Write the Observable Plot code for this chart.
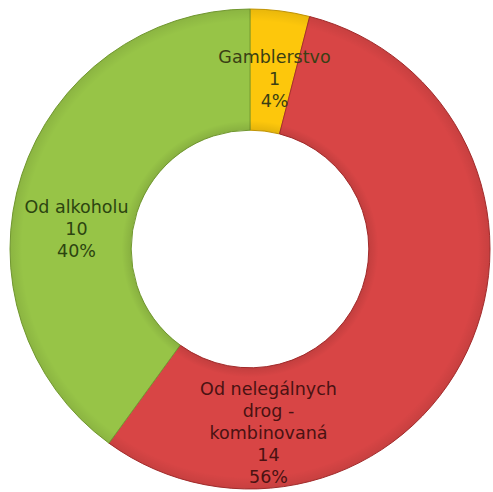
<!DOCTYPE html>
<html>
<head>
<meta charset="utf-8">
<script src="https://cdn.jsdelivr.net/npm/d3@7"></script>
<script src="https://cdn.jsdelivr.net/npm/@observablehq/plot@0.6"></script>
<style>
  html, body { margin: 0; padding: 0; background: #ffffff; }
  #chart { width: 493px; height: 492px; }
</style>
</head>
<body>
<div id="chart"></div>
<script>
// ---- data ----
const categories = ["Gamblerstvo", "Od nelegálnych drog - kombinovaná", "Od alkoholu"];
const counts = [1, 14, 10];
const percentLabels = ["4%", "56%", "40%"];

// ---- styles ----
const sliceColors = ["#FDC70C", "#D84545", "#97C447"];
const sliceEdges = ["#C99A05", "#A82E2E", "#779F33"];
const labelColors = ["#3A3F14", "#4A1212", "#2C4510"];

// ---- layout ----
const W = 493, H = 492;
const innerRatio = 0.495;
// label anchor offsets (in unit-radius coordinates) of the text block centre
const labelOffsets = [[0.10, 0.715], [0.075, -0.76], [-0.725, 0.09]];

const rows = categories.map((c, i) => ({
  category: c,
  count: counts[i],
  pct: percentLabels[i],
  i
}));
const arcs = d3.pie().sort(null).value(d => d.count)(rows);

const labelRows = rows.map((r, i) => ({
  text: r.category.replace(" drog - ", "\ndrog -\n") + "\n" + r.count + "\n" + r.pct,
  x: labelOffsets[i][0],
  y: labelOffsets[i][1],
  color: labelColors[i]
}));

function ring(index, scales) {
  const cx = scales.x(0), cy = scales.y(0);
  const R = scales.x(1) - cx;
  const g = d3.create("svg:g").attr("transform", `translate(${cx},${cy})`);
  const defs = g.append("defs");
  const grad = defs.append("radialGradient").attr("id", "shade")
    .attr("gradientUnits", "userSpaceOnUse").attr("cx", 0).attr("cy", 0).attr("r", R);
  grad.append("stop").attr("offset", innerRatio).attr("stop-color", "#000").attr("stop-opacity", 0.10);
  grad.append("stop").attr("offset", innerRatio + 0.04).attr("stop-color", "#000").attr("stop-opacity", 0);
  grad.append("stop").attr("offset", 0.95).attr("stop-color", "#000").attr("stop-opacity", 0);
  grad.append("stop").attr("offset", 1).attr("stop-color", "#000").attr("stop-opacity", 0.08);
  const arc = d3.arc().innerRadius(R * innerRatio).outerRadius(R);
  g.selectAll("path.slice").data(arcs).join("path")
    .attr("class", "slice")
    .attr("d", arc)
    .attr("fill", d => sliceColors[d.index])
    .attr("stroke", d => sliceEdges[d.index])
    .attr("stroke-width", 1);
  g.append("path")
    .attr("d", d3.arc().innerRadius(R * innerRatio).outerRadius(R).startAngle(0).endAngle(2 * Math.PI)())
    .attr("fill", "url(#shade)");
  return g.node();
}

const chart = Plot.plot({
  width: W,
  height: H,
  margin: 0,
  x: { domain: [-1, 1], range: [10, 490], axis: null },
  y: { domain: [-1, 1], range: [489, 9], axis: null },
  style: { background: "#ffffff" },
  marks: [
    ring,
    Plot.text(labelRows, {
      x: "x",
      y: "y",
      text: "text",
      fill: "color",
      fontSize: 17.5,
      lineHeight: 1.27,
      lineAnchor: "middle",
      fontFamily: "DejaVu Sans"
    })
  ]
});
document.getElementById("chart").appendChild(chart);
</script>
</body>
</html>
